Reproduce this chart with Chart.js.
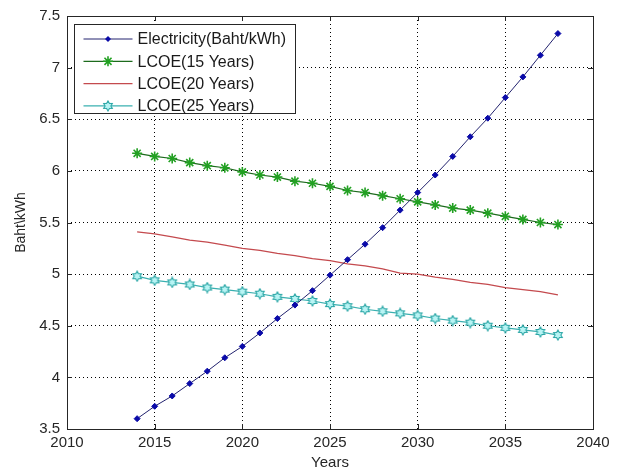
<!DOCTYPE html>
<html><head><meta charset="utf-8">
<script src="https://cdn.jsdelivr.net/npm/chart.js@4.4.0/dist/chart.umd.min.js"></script>
<style>html,body{margin:0;padding:0;background:#fff;overflow:hidden}</style>
</head><body>
<canvas id="c" width="617" height="474"></canvas>
<script>
const years = [2014,2015,2016,2017,2018,2019,2020,2021,2022,2023,2024,2025,2026,2027,2028,2029,2030,2031,2032,2033,2034,2035,2036,2037,2038];
const electricity = [3.60,3.72,3.82,3.94,4.06,4.19,4.30,4.43,4.57,4.70,4.84,4.99,5.14,5.29,5.45,5.62,5.79,5.96,6.14,6.33,6.51,6.71,6.91,7.12,7.33];
const lcoe15 = [6.17,6.14,6.12,6.08,6.05,6.03,5.99,5.96,5.94,5.90,5.88,5.85,5.81,5.79,5.76,5.73,5.70,5.67,5.64,5.62,5.59,5.56,5.53,5.50,5.48];
const lcoe20 = [5.41,5.39,5.36,5.33,5.31,5.28,5.25,5.23,5.20,5.18,5.15,5.13,5.10,5.08,5.05,5.01,5.00,4.97,4.95,4.92,4.90,4.87,4.85,4.83,4.80];
const lcoe25 = [4.98,4.94,4.92,4.90,4.87,4.85,4.83,4.81,4.78,4.76,4.74,4.71,4.69,4.66,4.64,4.62,4.60,4.57,4.55,4.53,4.50,4.48,4.46,4.44,4.41];
const seriesNames = ['Electricity(Baht/kWh)','LCOE(15 Years)','LCOE(20 Years)','LCOE(25 Years)'];
const xTickLabels = ['2010','2015','2020','2025','2030','2035','2040'];
const yTickLabels = ['3.5','4','4.5','5','5.5','6','6.5','7','7.5'];
const xTitle = 'Years';
const yTitle = 'Baht\\kWh';

const FONT = '"Liberation Sans", Arial, sans-serif';

function hexagram(size, stroke, fill) {
  const cv = document.createElement('canvas');
  cv.width = size; cv.height = size;
  const g = cv.getContext('2d');
  const c = size / 2, r = size / 2 - 1;
  g.lineWidth = 1.1;
  g.strokeStyle = stroke; g.fillStyle = fill;
  g.beginPath();
  for (let k = 0; k < 12; k++) {
    const a = k * Math.PI / 6;
    const rr = (k % 2 === 0) ? r : r * 0.577;
    const px = c + rr * Math.sin(a), py = c - rr * Math.cos(a);
    k ? g.lineTo(px, py) : g.moveTo(px, py);
  }
  g.closePath(); g.fill(); g.stroke();
  return cv;
}
const hexMark = hexagram(12, '#2aa6a6', '#b8f4f4');

const toXY = (vals) => years.map((yr, i) => ({x: yr, y: vals[i]}));

const styles = [
  {line: '#22226e', mark: '#0a0aa8'},
  {line: '#1d6b1d', mark: '#22a022'},
  {line: '#c44a4e', mark: '#c44a4e'},
  {line: '#3ab0b0', mark: '#2aa6a6'}
];

const data = {
  datasets: [
    {label: seriesNames[0], data: toXY(electricity), borderColor: styles[0].line, borderWidth: 1,
     pointStyle: 'rectRot', pointRadius: 3, pointBackgroundColor: styles[0].mark, pointBorderColor: styles[0].mark, pointBorderWidth: 1},
    {label: seriesNames[1], data: toXY(lcoe15), borderColor: styles[1].line, borderWidth: 1.2,
     pointStyle: 'star', pointRadius: 5, pointBorderColor: styles[1].mark, pointBackgroundColor: styles[1].mark, pointBorderWidth: 1.6},
    {label: seriesNames[2], data: toXY(lcoe20), borderColor: styles[2].line, borderWidth: 1.3, pointRadius: 0},
    {label: seriesNames[3], data: toXY(lcoe25), borderColor: styles[3].line, borderWidth: 1.2,
     pointStyle: hexMark, pointRadius: 6}
  ]
};

const frame = {
  id: 'frame',
  afterDatasetsDraw(chart) {
    const {ctx, chartArea: a, scales: {x, y}} = chart;
    ctx.save();
    ctx.strokeStyle = '#262626';
    ctx.lineWidth = 1;
    ctx.beginPath();
    x.ticks.forEach(t => {
      const px = Math.round(x.getPixelForValue(t.value)) + 0.5;
      ctx.moveTo(px, a.bottom); ctx.lineTo(px, a.bottom - 5);
      ctx.moveTo(px, a.top); ctx.lineTo(px, a.top + 5);
    });
    y.ticks.forEach(t => {
      const py = Math.round(y.getPixelForValue(t.value)) + 0.5;
      ctx.moveTo(a.left, py); ctx.lineTo(a.left + 5, py);
      ctx.moveTo(a.right, py); ctx.lineTo(a.right - 5, py);
    });
    ctx.stroke();
    ctx.strokeRect(Math.round(a.left) + 0.5, Math.round(a.top) + 0.5, Math.round(a.right - a.left), Math.round(a.bottom - a.top));
    ctx.restore();
  },
  afterDraw(chart) {
    const {ctx, chartArea: a} = chart;
    const bx = Math.round(a.left + 7) + 0.5, by = Math.round(a.top + 8) + 0.5;
    const bw = 221, bh = 89;
    ctx.save();
    ctx.fillStyle = '#fff';
    ctx.fillRect(bx, by, bw, bh);
    ctx.strokeStyle = '#262626'; ctx.lineWidth = 1;
    ctx.strokeRect(bx, by, bw, bh);
    ctx.font = '16px ' + FONT;
    ctx.textBaseline = 'middle';
    chart.data.datasets.forEach((ds, i) => {
      const cy = by + 14.5 + i * 22.3;
      const x0 = bx + 9, x1 = bx + 58, xm = (x0 + x1) / 2;
      ctx.strokeStyle = ds.borderColor; ctx.lineWidth = ds.borderWidth;
      ctx.beginPath(); ctx.moveTo(x0, cy); ctx.lineTo(x1, cy); ctx.stroke();
      if (ds.pointStyle === 'rectRot') {
        ctx.fillStyle = ds.pointBackgroundColor;
        ctx.beginPath(); ctx.moveTo(xm, cy - 3); ctx.lineTo(xm + 3, cy); ctx.lineTo(xm, cy + 3); ctx.lineTo(xm - 3, cy); ctx.closePath(); ctx.fill();
      } else if (ds.pointStyle === 'star') {
        ctx.strokeStyle = ds.pointBorderColor; ctx.lineWidth = 1.6;
        ctx.beginPath();
        for (let k = 0; k < 4; k++) {
          const ang = k * Math.PI / 4;
          ctx.moveTo(xm - 5 * Math.cos(ang), cy - 5 * Math.sin(ang));
          ctx.lineTo(xm + 5 * Math.cos(ang), cy + 5 * Math.sin(ang));
        }
        ctx.stroke();
      } else if (typeof ds.pointStyle === 'object') {
        ctx.drawImage(ds.pointStyle, xm - 6, cy - 6);
      }
      ctx.fillStyle = '#1a1a1a';
      ctx.fillText(ds.label, bx + 63, cy + 1);
    });
    ctx.restore();
  }
};

new Chart(document.getElementById('c'), {
  type: 'line',
  data,
  plugins: [frame],
  options: {
    responsive: false,
    animation: false,
    events: [],
    layout: {padding: {left: 0, top: 15, right: 24, bottom: 0}},
    elements: {line: {tension: 0}},
    plugins: {legend: {display: false}, tooltip: {enabled: false}},
    scales: {
      x: {
        type: 'linear', min: 2010, max: 2040,
        afterFit(s) { s.height = 45; },
        afterBuildTicks(s) { s.ticks = xTickLabels.map(v => ({value: Number(v)})); },
        ticks: {stepSize: 5, padding: 5, color: '#262626', font: {family: FONT, size: 15},
                maxRotation: 0, autoSkip: false,
                callback: (v) => xTickLabels.find(l => Number(l) === v) ?? ''},
        grid: {color: '#000', lineWidth: 1, drawTicks: false},
        border: {display: false, dash: [1, 3]},
        title: {display: true, text: xTitle, color: '#262626', font: {family: FONT, size: 15}, padding: {top: 0, bottom: 2}}
      },
      y: {
        type: 'linear', min: 3.5, max: 7.5,
        afterFit(s) { s.width = 67; },
        afterBuildTicks(s) { s.ticks = yTickLabels.map(v => ({value: Number(v)})); },
        ticks: {stepSize: 0.5, padding: 7, color: '#262626', font: {family: FONT, size: 15},
                autoSkip: false,
                callback: (v) => yTickLabels.find(l => Number(l) === v) ?? ''},
        grid: {color: '#000', lineWidth: 1, drawTicks: false},
        border: {display: false, dash: [1, 3]},
        title: {display: true, text: yTitle, color: '#262626', font: {family: FONT, size: 14}, padding: {top: 13, bottom: 0}}
      }
    }
  }
});
</script>
</body></html>
